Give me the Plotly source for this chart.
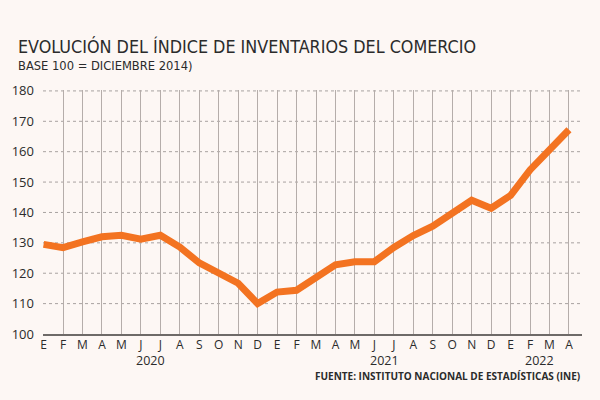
import plotly.graph_objects as go

months = ["E","F","M","A","M","J","J","A","S","O","N","D",
          "E","F","M","A","M","J","J","A","S","O","N","D",
          "E","F","M","A"]
values = [129.5,128.4,130.3,132.0,132.5,131.2,132.5,128.6,123.4,120.0,116.7,110.0,
          113.8,114.4,118.8,122.8,123.8,123.8,128.5,132.4,135.5,139.6,144.0,141.4,
          145.6,154.0,161.0,167.2]
years = ["2020","2021","2022"]
year_pos = [5.5, 17.5, 25.5]
y_ticks = [100,110,120,130,140,150,160,170,180]

bg = "#FDF7F4"
x = list(range(len(values)))

L, R, T, B = 43, 582, 90, 334
PW, PH = R - L, B - T
def px(p): return (p - L) / PW
def py(p): return (B - p) / PH

fig = go.Figure()
fig.add_trace(go.Scatter(x=x, y=values, mode="lines",
                         line=dict(color="#F37321", width=7),
                         hoverinfo="skip"))

for yv in y_ticks[1:]:
    fig.add_shape(type="line", xref="paper", yref="y", x0=0, x1=1, y0=yv, y1=yv,
                  line=dict(color="#A8A2A0", width=1, dash="dot"), layer="below")

for i, yr in enumerate(years):
    fig.add_annotation(x=year_pos[i], y=0, xref="x", yref="paper", yshift=-26,
                       text=yr, showarrow=False, yanchor="middle",
                       font=dict(family="Open Sans", size=12.5, color="#2b2b2b"))

fig.add_annotation(x=1, y=0, xref="paper", yref="paper", yshift=-42, xanchor="right",
                   yanchor="middle", showarrow=False,
                   text="<b>FUENTE: INSTITUTO NACIONAL DE ESTADÍSTICAS (INE)</b>",
                   font=dict(family="Open Sans", size=10, color="#2b2b2b"))

cond = "Liberation Sans Narrow, DejaVu Sans Condensed, Roboto"
fig.add_annotation(x=px(16), y=py(46), xref="paper", yref="paper", showarrow=False,
                   xanchor="left", yanchor="middle",
                   text="EVOLUCIÓN DEL ÍNDICE DE INVENTARIOS DEL COMERCIO",
                   font=dict(family=cond, size=17.8, color="#2b2b2b"))
fig.add_annotation(x=px(16), y=py(66), xref="paper", yref="paper", showarrow=False,
                   xanchor="left", yanchor="middle",
                   text="BASE 100 = DICIEMBRE 2014)",
                   font=dict(family=cond, size=12.8, color="#2b2b2b"))

fig.update_layout(
    width=600, height=400,
    margin=dict(l=L, r=600 - R, t=T, b=400 - B, pad=0),
    paper_bgcolor=bg, plot_bgcolor=bg,
    showlegend=False,
    xaxis=dict(range=[-0.03, 27.67], tickmode="array", tickvals=x, ticktext=months,
               showgrid=True, gridcolor="#B5ADAA", gridwidth=1,
               showline=True, linecolor="#6E6A68", linewidth=2,
               ticks="", zeroline=False, fixedrange=True, ticklabelstandoff=-1,
               tickfont=dict(family="Open Sans", size=12, color="#2b2b2b")),
    yaxis=dict(range=[100, 180.3], tickmode="array", tickvals=y_ticks,
               showgrid=False, zeroline=False, showline=False, ticks="",
               ticklabelstandoff=8, fixedrange=True,
               tickfont=dict(family="Open Sans", size=13, color="#2b2b2b")),
)

fig.write_html("out.html")
